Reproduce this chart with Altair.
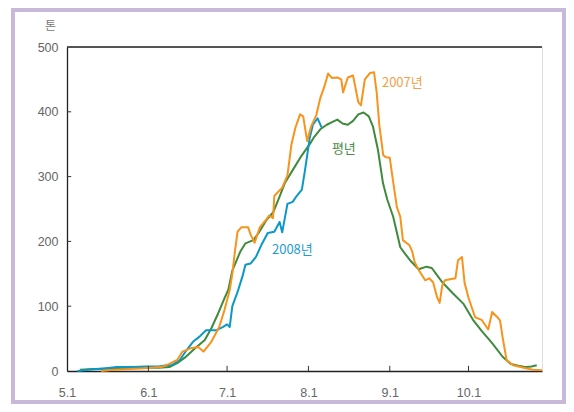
import altair as alt
import pandas as pd

# ---- axis ticks ----
tick_days = [0, 31, 61, 92, 123, 153]
tick_labels = ["5.1", "6.1", "7.1", "8.1", "9.1", "10.1"]
y_ticks = [0, 100, 200, 300, 400, 500]
y_inner_ticks = [100, 200, 300, 400]

# ---- series (day offset from May 1, tons) ----
days_2007 = [13, 18, 24, 28, 32, 36, 39, 42, 44, 47, 50, 52, 55, 58, 60, 62, 63, 64, 65, 66.5,
             69, 70, 71.5, 73.5, 76, 77, 78.5, 79, 82, 84, 85.5, 87, 88.8, 90, 91.5, 93, 95, 96.5,
             98, 99.5, 101, 103, 104.5, 105.2, 107, 109, 111, 112, 113.5, 115.5, 117, 118, 119,
             120.5, 121.5, 123, 124, 125.7, 127, 128, 130.5, 131.5, 132.5, 134, 136.5, 138, 139.5,
             141, 142, 143, 144, 148, 149, 150.5, 151.5, 153, 155.5, 158, 160.5, 162, 164, 165,
             166, 167.5, 170, 174, 177.5, 181]
vals_2007 = [0, 2, 3, 4, 5, 6, 11, 17, 30, 35, 37, 30, 45, 68, 94, 125, 150, 185, 215, 222,
             222, 210, 198, 222, 234, 240, 236, 270, 283, 302, 349, 375, 396, 393, 355, 377, 395, 421,
             438, 459, 452, 453, 450, 430, 453, 456, 415, 410, 450, 460, 461, 430, 380,
             333, 330, 329, 300, 253, 238, 202, 194, 185, 168, 156, 140, 143, 137,
             114, 105, 132, 140, 143, 171, 176, 136, 113, 83, 79, 64, 91, 83, 78,
             52, 17, 9, 5, 2, 1]

days_2008 = [4, 8, 14, 19, 25, 30, 35, 38, 40, 43, 45.5, 48, 50.5, 53, 57, 59.5, 61, 62, 63, 65,
             67, 68, 70, 72, 74, 76.5, 79, 81, 82, 84, 86, 87.5, 89.5, 90.5, 91.5, 92.5, 93.7,
             95.5, 97]
vals_2008 = [0, 2, 4, 6, 6, 7, 7, 9, 9, 17, 32, 45, 53, 63, 63, 68, 72, 68, 100, 122,
             148, 164, 166, 176, 194, 213, 215, 230, 214, 258, 261, 270, 280, 305, 332, 360, 380,
             390, 376]

days_avg = [5, 10, 20, 30, 35, 39, 42, 45, 48.5, 52.5, 55, 57.5, 60, 61.5, 63, 66, 68, 71, 73,
            76, 78.6, 81, 83, 86, 89, 92.5, 94, 96.5, 99, 101, 103, 105, 107, 109, 111, 113, 115,
            116.6, 118.5, 120.4, 122, 124.3, 127, 129, 130.7, 134, 137, 139, 141, 143, 147, 151,
            154.7, 158, 162, 166, 169, 172, 175, 177, 179]
vals_avg = [2, 3, 4, 5, 5, 6, 12, 21, 34, 48, 66, 88, 112, 126, 155, 184, 197, 202, 213,
            233, 245, 269, 290, 310, 330, 350, 360, 373, 380, 384, 388, 382, 380, 386, 396, 399, 393,
            377, 341, 290, 265, 238, 191, 180, 171, 157, 161, 159, 148, 137, 120, 104,
            79, 62, 43, 22, 11, 8, 6, 7, 9]

series_names = ["2007년", "2008년", "평년"]
series_colors = ["#f7941d", "#0a98c8", "#3f8a3c"]

label_text = ["2007년", "평년", "2008년"]
label_day = [120, 105.5, 78.1]
label_val = [444, 342, 187]
label_align = ["left", "center", "left"]
label_color = ["#f4a048", "#4a8c48", "#1f9dd0"]

rows = []
for name, ds, vs in [("2007년", days_2007, vals_2007), ("2008년", days_2008, vals_2008),
                     ("평년", days_avg, vals_avg)]:
    for d, v in zip(ds, vs):
        rows.append({"day": d, "value": v, "series": name})
df = pd.DataFrame(rows)

W, H = 475, 324
xscale = alt.Scale(domain=[0, 181], nice=False, zero=False)
yscale = alt.Scale(domain=[0, 500], nice=False)
cscale = alt.Scale(domain=series_names, range=series_colors)

days_js = "[" + ",".join(str(d) for d in tick_days) + "]"
labs_js = "[" + ",".join("'" + s + "'" for s in tick_labels) + "]"

xaxis = alt.Axis(values=tick_days, labelExpr=f"{labs_js}[indexof({days_js}, datum.value)]",
                 title=None, grid=False, tickSize=0, domainColor="#222", domainWidth=1.3,
                 labelColor="#666", labelFontSize=12.5, labelPadding=15, labelFlush=False,
                 labelFont="Liberation Sans")
yaxis = alt.Axis(values=y_ticks, title="톤", titleAngle=0, titleX=-17, titleY=-22,
                 titleAlign="center", titleBaseline="middle", titleFontWeight="normal",
                 titleColor="#777", titleFontSize=12, titleFont="Noto Sans CJK KR",
                 grid=False, tickSize=0, domainColor="#222", domainWidth=1.3,
                 labelColor="#666", labelFontSize=12.5, labelPadding=9, labelFlush=False,
                 labelFont="Liberation Sans")

frame = alt.Chart(pd.DataFrame({"a": [0]})).mark_rect(
    fillOpacity=0, stroke="#c8b9d9", strokeWidth=4
).encode(x=alt.value(-54), x2=alt.value(497), y=alt.value(-37), y2=alt.value(355))

def series_layer(name):
    return alt.Chart(df).transform_filter(alt.datum.series == name).mark_line(
        strokeWidth=2, strokeJoin="round"
    ).encode(
        x=alt.X("day:Q", scale=xscale, axis=xaxis),
        y=alt.Y("value:Q", scale=yscale, axis=yaxis),
        color=alt.Color("series:N", scale=cscale, legend=None),
        order="day:Q",
    )

top_rule = alt.Chart(pd.DataFrame({"v": [500]})).mark_rule(color="#222", strokeWidth=1.3).encode(
    y=alt.Y("v:Q", scale=yscale)
)

xt = alt.Chart(pd.DataFrame({"d": tick_days[1:]})).mark_rule(color="#333", strokeWidth=1).encode(
    x=alt.X("d:Q", scale=xscale), y=alt.datum(0), y2=alt.datum(8)
)
yt = alt.Chart(pd.DataFrame({"v": y_inner_ticks})).mark_rule(color="#333", strokeWidth=1).encode(
    y=alt.Y("v:Q", scale=yscale), x=alt.datum(0), x2=alt.datum(1.6)
)

lab_df = pd.DataFrame({"t": label_text, "d": label_day, "v": label_val,
                       "a": label_align, "c": label_color})
labels = []
for i in range(len(label_text)):
    labels.append(
        alt.Chart(lab_df.iloc[[i]]).mark_text(
            align=label_align[i], baseline="middle", fontSize=13,
            font="Liberation Sans Narrow, Arial Narrow, Noto Sans CJK KR, sans-serif"
        ).encode(
            x=alt.X("d:Q", scale=xscale), y=alt.Y("v:Q", scale=yscale),
            text="t:N", color=alt.Color("c:N", scale=None)
        )
    )

chart = alt.layer(
    frame,
    series_layer("평년"), series_layer("2008년"), series_layer("2007년"),
    top_rule, xt, yt, *labels
).properties(
    width=W, height=H,
    autosize=alt.AutoSizeParams(type="none"),
    padding={"left": 59, "top": 39, "right": 24, "bottom": 33},
).configure_view(
    stroke="#999", strokeWidth=2
).configure(background="white")

chart.save("out.html", embed_options={"renderer": "svg", "actions": False})
